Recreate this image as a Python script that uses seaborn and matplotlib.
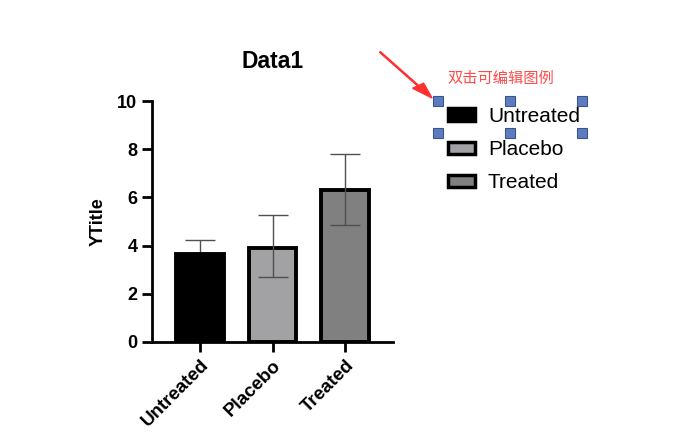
import matplotlib
matplotlib.use("Agg")
import matplotlib.pyplot as plt
import seaborn as sns
import pandas as pd
from matplotlib.patches import Patch, Rectangle, FancyArrow

categories = ["Untreated", "Placebo", "Treated"]
means = [3.64, 3.92, 6.29]
err_up = [0.58, 1.33, 1.52]
err_low = [0.55, 1.22, 1.42]
colors = ["#000000", "#a1a1a6", "#808080"]
title = "Data1"
ylabel = "YTitle"
yticks = [0, 2, 4, 6, 8, 10]
note = "双击可编辑图例"

sns.set_theme(style="ticks")
plt.rcParams['font.family'] = ['Liberation Sans', 'DejaVu Sans']
plt.rcParams['text.color'] = 'black'
plt.rcParams['axes.labelcolor'] = 'black'
plt.rcParams['xtick.color'] = 'black'
plt.rcParams['ytick.color'] = 'black'

df = pd.DataFrame({"group": categories, "value": means})

fig = plt.figure(figsize=(6.8, 4.32), dpi=100)
ax = fig.add_axes([152/680, 1-342/432, (393-152)/680, (342-101)/432])

sns.barplot(data=df, x="group", y="value", hue="group", palette=colors,
            order=categories, hue_order=categories, width=0.66,
            edgecolor="black", linewidth=2.8, legend=False, ax=ax, errorbar=None)
for p in ax.patches:
    p.set_zorder(2)
for i in range(len(categories)):
    # error bar hidden behind a black bar, drawn on top of lighter bars
    z = 1 if colors[i] == "#000000" else 5
    ax.errorbar([i], [means[i]], yerr=[[err_low[i]], [err_up[i]]], fmt="none",
                ecolor="#505050", elinewidth=1.0, capsize=11, capthick=1.0, zorder=z)

ax.set_xlim(-0.66, 2.66)
ax.set_ylim(0, 10)
ax.set_yticks(yticks)
ax.set_xlabel("")
ax.set_ylabel(ylabel, fontsize=13, fontweight="bold", labelpad=8)
ax.set_title(title, fontsize=16.5, fontweight="bold", pad=24)
for s in ["top", "right"]:
    ax.spines[s].set_visible(False)
for s in ["left", "bottom"]:
    ax.spines[s].set_linewidth(2)
    ax.spines[s].set_color("black")
ax.tick_params(axis="both", width=2, length=7, color="black", labelsize=13)
for lab in ax.get_yticklabels():
    lab.set_fontweight("bold")
ax.set_xticks(range(len(categories)))
ax.set_xticklabels(categories, rotation=45, ha="right", rotation_mode="anchor",
                   fontweight="bold", fontsize=13.5)

handles = [Patch(facecolor=c, edgecolor="black", linewidth=2.5) for c in colors]
leg = fig.legend(handles, categories, loc="upper left",
                 bbox_to_anchor=(448/680, 1-107/432), frameon=False,
                 fontsize=15, handlelength=1.3, handleheight=0.55,
                 handletextpad=0.62, labelspacing=0.68,
                 borderpad=0, borderaxespad=0)

# editing handles
for (px, py) in [(438, 101), (510, 101), (582, 101), (438, 133), (510, 133), (582, 133)]:
    fig.patches.append(Rectangle(((px-5)/680, 1-(py+5)/432), 10/680, 10/432,
                                 transform=fig.transFigure, facecolor="#5b7dc0",
                                 edgecolor="#3a558c", linewidth=0.8, zorder=10))

fig.text(447/680, 1-78/432, note, color="#ff4a4a", fontsize=11,
         family=['Noto Sans CJK SC', 'DejaVu Sans'], va="center", ha="left")
fig.add_artist(FancyArrow(380/680, 1-52/432, (432-380)/680, -(98-52)/432,
                          transform=fig.transFigure, width=0.002,
                          head_width=0.02, head_length=0.035,
                          length_includes_head=True, color="#ff3030"))

fig.savefig("out.png", dpi=100)
